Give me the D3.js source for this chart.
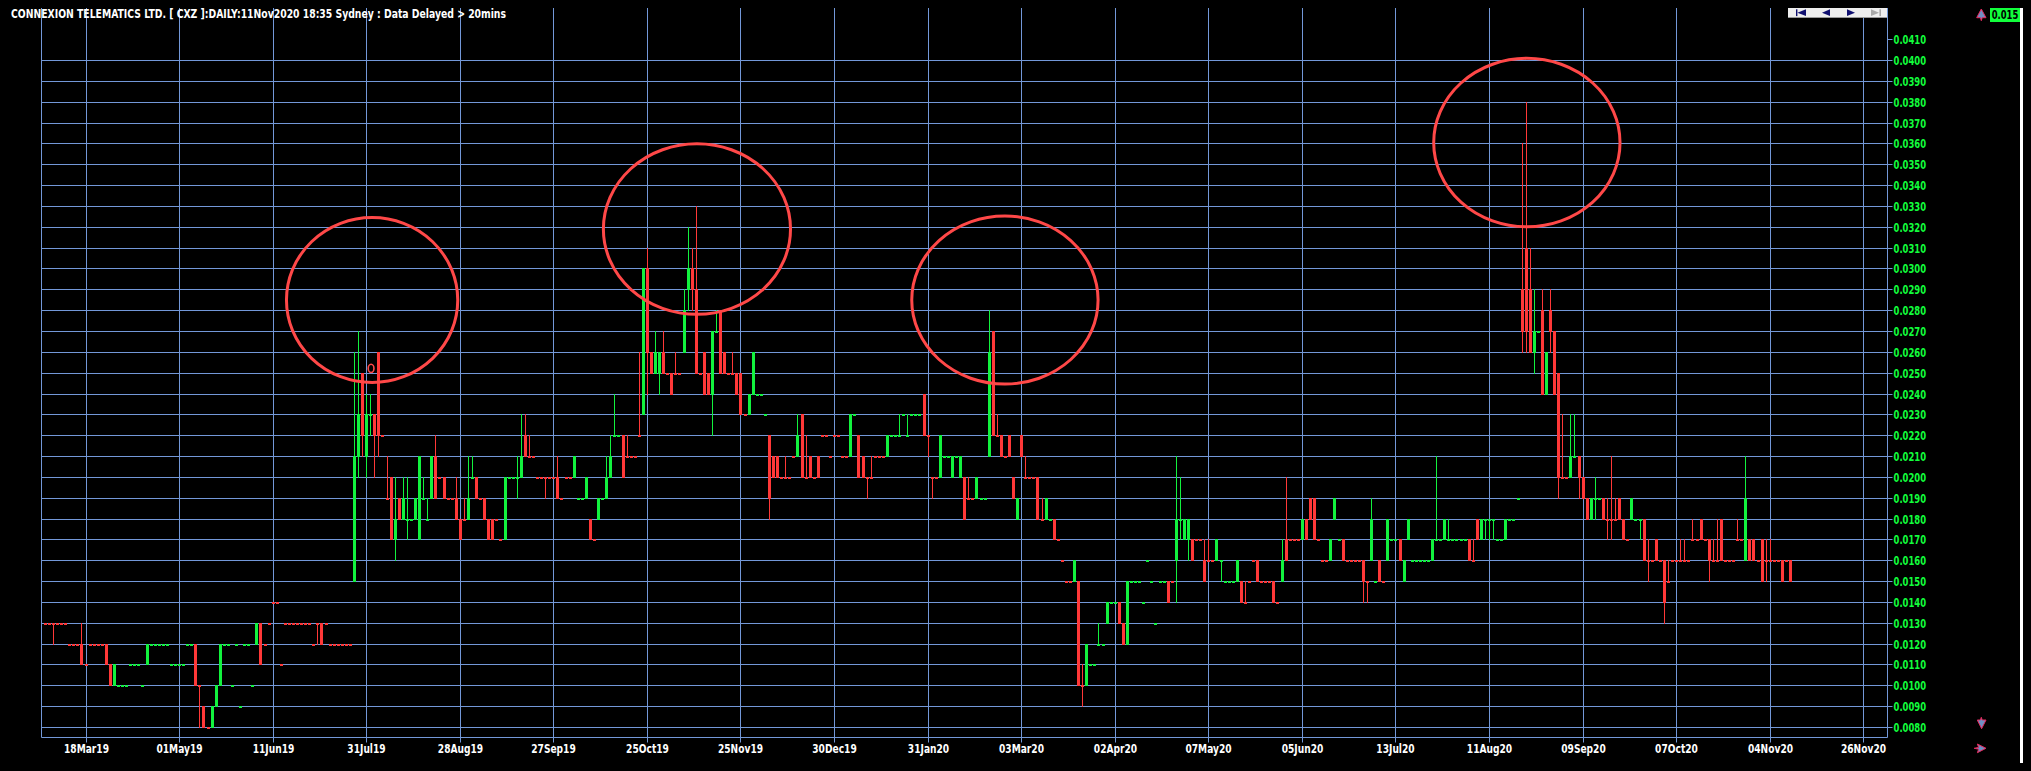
<!DOCTYPE html>
<html>
<head>
<meta charset="utf-8">
<script src="https://cdn.jsdelivr.net/npm/d3@7"></script>
<style>
html,body{margin:0;padding:0;background:#000;overflow:hidden;}
svg{display:block;}
text{font-family:"Liberation Sans Narrow","Arial Narrow","DejaVu Sans Condensed","Liberation Sans",sans-serif;font-weight:bold;}
.ylab{font-size:12.5px;}
.xlab{font-size:12.5px;}
.title{font-size:11.5px;}
.last{font-size:11.5px;}
</style>
</head>
<body>
<svg id="chart" width="2031" height="771"></svg>
<script>
const titleText = "CONNEXION TELEMATICS LTD. [ CXZ ]:DAILY:11Nov2020 18:35 Sydney : Data Delayed > 20mins";
const tickLabels = ["18Mar19","01May19","11Jun19","31Jul19","28Aug19","27Sep19","25Oct19","25Nov19","30Dec19","31Jan20","03Mar20","02Apr20","07May20","05Jun20","13Jul20","11Aug20","09Sep20","07Oct20","04Nov20","26Nov20"];
const priceTicks = [0.008,0.009,0.010,0.011,0.012,0.013,0.014,0.015,0.016,0.017,0.018,0.019,0.020,0.021,0.022,0.023,0.024,0.025,0.026,0.027,0.028,0.029,0.030,0.031,0.032,0.033,0.034,0.035,0.036,0.037,0.038,0.039,0.040,0.041];

const opens = [
.013,.013,.013,.013,.013,.013,.012,.012,.012,.012,
.011,.012,.012,.012,.012,.012,.011,.010,.010,.010,
.010,.011,.011,.011,.010,.011,.012,.012,.012,.012,
.012,.011,.011,.011,.011,.012,.012,.012,.010,.009,
.008,.008,.009,.010,.012,.012,.010,.012,.009,.012,
.012,.010,.012,.013,.012,.013,.014,.014,.011,.013,
.013,.013,.013,.013,.013,.013,.012,.013,.013,.013,
.012,.012,.012,.012,.012,.012,.015,.021,.025,.021,
.023,.023,.026,.022,.019,.020,.017,.019,.018,.018,
.018,.018,.017,.019,.018,.019,.021,.020,.020,.019,
.019,.019,.018,.018,.018,.020,.020,.019,.019,.018,
.018,.018,.017,.017,.020,.020,.020,.020,.022,.021,
.021,.020,.020,.020,.020,.020,.020,.019,.020,.020,
.020,.019,.019,.019,.018,.017,.018,.019,.019,.020,
.022,.022,.022,.021,.021,.021,.022,.023,.030,.026,
.025,.025,.026,.025,.025,.025,.025,.026,.029,.030,
.029,.025,.026,.025,.024,.027,.028,.026,.025,.025,
.025,.025,.023,.023,.024,.024,.024,.023,.022,.021,
.021,.020,.020,.020,.021,.021,.023,.020,.021,.020,
.021,.022,.022,.021,.022,.022,.021,.021,.021,.023,
.022,.021,.020,.020,.021,.021,.021,.021,.022,.022,
.022,.023,.022,.023,.023,.023,.024,.022,.020,.020,
.020,.021,.021,.020,.021,.020,.020,.019,.019,.019,
.019,.019,.021,.027,.022,.022,.021,.022,.020,.018,
.022,.020,.020,.020,.020,.018,.018,.018,.018,.017,
.016,.015,.015,.015,.015,.010,.010,.011,.011,.012,
.012,.013,.014,.014,.014,.013,.012,.015,.015,.015,
.014,.016,.015,.013,.015,.015,.015,.015,.016,.018,
.017,.017,.017,.017,.017,.016,.016,.016,.016,.016,
.015,.015,.015,.015,.015,.014,.015,.016,.016,.015,
.015,.015,.015,.014,.015,.017,.017,.017,.017,.017,
.018,.019,.019,.017,.016,.016,.016,.018,.017,.017,
.016,.016,.016,.016,.016,.015,.016,.015,.016,.015,
.016,.017,.017,.017,.015,.017,.016,.016,.016,.016,
.016,.016,.017,.017,.017,.017,.017,.017,.017,.017,
.017,.016,.018,.017,.018,.018,.018,.017,.017,.017,
.018,.018,.019,.029,.031,.029,.026,.027,.028,.024,
.028,.027,.025,.020,.020,.020,.021,.021,.020,.019,
.018,.019,.019,.019,.018,.018,.018,.019,.018,.017,
.018,.018,.018,.018,.016,.016,.017,.016,.016,.015,
.016,.016,.016,.016,.016,.017,.017,.018,.017,.017,
.016,.016,.018,.016,.016,.016,.017,.017,.016,.017,
.017,.016,.017,.016,.016,.016,.016,.016,.016,.016];

const highs = [
.013,.013,.013,.013,.013,.013,.012,.012,.012,.013,
.011,.012,.012,.012,.012,.012,.011,.011,.010,.010,
.010,.011,.011,.011,.010,.012,.012,.012,.012,.012,
.012,.011,.011,.011,.011,.012,.012,.012,.010,.009,
.008,.009,.010,.012,.012,.012,.010,.012,.009,.012,
.012,.010,.013,.013,.012,.013,.014,.014,.011,.013,
.013,.013,.013,.013,.013,.013,.012,.013,.013,.013,
.012,.012,.012,.012,.012,.012,.026,.027,.025,.024,
.024,.023,.026,.022,.021,.020,.020,.019,.020,.020,
.018,.019,.021,.020,.019,.021,.022,.020,.020,.019,
.019,.020,.018,.019,.021,.021,.020,.019,.019,.018,
.018,.018,.017,.020,.020,.020,.021,.023,.023,.022,
.021,.020,.020,.020,.020,.020,.021,.019,.020,.020,
.021,.019,.019,.020,.018,.017,.019,.019,.021,.022,
.024,.022,.022,.022,.021,.021,.026,.030,.031,.026,
.027,.026,.027,.025,.025,.026,.025,.029,.032,.031,
.033,.025,.026,.025,.027,.028,.028,.026,.025,.026,
.025,.025,.023,.024,.026,.024,.024,.023,.022,.021,
.021,.020,.021,.020,.021,.023,.023,.022,.021,.020,
.021,.022,.022,.021,.022,.022,.021,.021,.023,.023,
.022,.021,.020,.021,.021,.021,.021,.022,.022,.022,
.023,.023,.023,.023,.023,.023,.024,.022,.020,.020,
.022,.021,.021,.021,.021,.021,.020,.020,.019,.020,
.019,.019,.028,.027,.023,.022,.021,.022,.020,.019,
.022,.021,.020,.020,.020,.019,.019,.018,.018,.017,
.016,.015,.015,.016,.015,.011,.012,.011,.011,.013,
.012,.014,.014,.014,.014,.013,.015,.015,.015,.015,
.014,.016,.015,.013,.015,.015,.015,.015,.021,.020,
.018,.018,.017,.017,.017,.017,.017,.016,.017,.016,
.015,.015,.015,.016,.015,.015,.015,.016,.016,.015,
.015,.015,.015,.014,.017,.020,.017,.017,.017,.018,
.018,.019,.019,.017,.016,.016,.017,.019,.017,.017,
.016,.016,.016,.016,.016,.015,.019,.015,.016,.015,
.018,.017,.017,.017,.016,.018,.016,.016,.016,.016,
.016,.017,.021,.017,.018,.018,.017,.017,.017,.017,
.017,.017,.018,.018,.018,.018,.018,.017,.017,.018,
.018,.018,.019,.036,.038,.031,.029,.027,.029,.026,
.029,.027,.025,.023,.020,.023,.023,.021,.020,.019,
.019,.020,.019,.019,.019,.021,.019,.019,.018,.017,
.019,.018,.018,.018,.017,.016,.017,.016,.016,.016,
.016,.016,.017,.017,.016,.018,.017,.018,.017,.017,
.017,.018,.018,.016,.016,.016,.018,.017,.021,.017,
.017,.016,.017,.017,.017,.016,.016,.016,.016,.016];

const lows = [
.013,.013,.012,.013,.013,.013,.012,.012,.012,.011,
.011,.012,.012,.012,.012,.011,.010,.010,.010,.010,
.010,.011,.011,.011,.010,.011,.012,.012,.012,.012,
.012,.011,.011,.011,.011,.012,.012,.010,.008,.008,
.008,.008,.009,.010,.012,.012,.010,.012,.009,.012,
.012,.010,.012,.011,.012,.013,.014,.014,.011,.013,
.013,.013,.013,.013,.013,.013,.012,.012,.012,.013,
.012,.012,.012,.012,.012,.012,.015,.020,.021,.020,
.022,.020,.021,.022,.019,.017,.016,.018,.018,.017,
.018,.018,.017,.019,.018,.019,.019,.020,.019,.019,
.019,.018,.017,.018,.018,.020,.019,.019,.018,.017,
.017,.018,.017,.017,.020,.020,.019,.020,.021,.021,
.021,.020,.020,.019,.020,.020,.019,.019,.020,.020,
.020,.019,.019,.019,.017,.017,.018,.019,.019,.020,
.022,.022,.020,.021,.021,.021,.022,.023,.024,.025,
.025,.024,.025,.025,.024,.025,.025,.026,.028,.028,
.025,.025,.024,.024,.022,.027,.025,.025,.025,.025,
.024,.023,.023,.023,.024,.024,.024,.023,.018,.020,
.020,.020,.020,.020,.021,.021,.020,.020,.020,.020,
.020,.022,.022,.021,.022,.022,.021,.021,.021,.023,
.020,.020,.019,.020,.021,.021,.021,.021,.022,.022,
.022,.023,.022,.023,.023,.023,.022,.021,.019,.020,
.020,.021,.021,.020,.021,.020,.018,.019,.019,.019,
.019,.019,.021,.022,.022,.021,.021,.021,.019,.018,
.021,.020,.020,.020,.018,.018,.018,.018,.017,.017,
.016,.015,.015,.015,.010,.009,.010,.011,.011,.012,
.012,.013,.014,.014,.013,.012,.012,.015,.015,.015,
.014,.016,.015,.013,.015,.015,.014,.015,.014,.017,
.017,.016,.016,.017,.017,.015,.016,.016,.016,.015,
.015,.015,.015,.015,.014,.014,.015,.016,.015,.015,
.015,.015,.014,.014,.015,.016,.017,.017,.017,.017,
.017,.018,.017,.017,.016,.016,.016,.018,.017,.016,
.016,.016,.016,.016,.014,.014,.016,.015,.015,.015,
.016,.017,.017,.016,.015,.017,.016,.016,.016,.016,
.016,.016,.017,.017,.017,.017,.017,.017,.017,.017,
.016,.016,.017,.017,.017,.017,.017,.017,.017,.017,
.018,.018,.019,.026,.026,.026,.025,.027,.024,.024,
.026,.024,.019,.020,.020,.020,.021,.019,.019,.018,
.018,.018,.019,.018,.017,.017,.018,.018,.017,.017,
.018,.018,.017,.016,.015,.016,.016,.016,.013,.015,
.016,.016,.016,.016,.016,.017,.017,.017,.017,.015,
.016,.016,.016,.016,.016,.016,.017,.017,.016,.016,
.016,.016,.015,.015,.016,.016,.016,.015,.016,.015];

const closes = [
.013,.013,.013,.013,.013,.013,.012,.012,.012,.011,
.011,.012,.012,.012,.012,.011,.010,.011,.010,.010,
.010,.011,.011,.011,.010,.012,.012,.012,.012,.012,
.012,.011,.011,.011,.011,.012,.012,.010,.010,.008,
.008,.009,.010,.012,.012,.012,.010,.012,.009,.012,
.012,.010,.013,.011,.012,.013,.014,.014,.011,.013,
.013,.013,.013,.013,.013,.013,.012,.013,.012,.013,
.012,.012,.012,.012,.012,.012,.021,.023,.022,.023,
.023,.022,.022,.022,.019,.017,.018,.018,.019,.018,
.018,.019,.021,.019,.018,.021,.019,.020,.019,.019,
.019,.018,.017,.018,.019,.020,.019,.019,.018,.017,
.017,.018,.017,.020,.020,.020,.020,.021,.021,.021,
.021,.020,.020,.020,.020,.020,.019,.019,.020,.020,
.021,.019,.019,.020,.017,.017,.019,.019,.020,.021,
.022,.022,.020,.021,.021,.021,.022,.030,.026,.025,
.026,.026,.025,.025,.024,.025,.025,.028,.030,.029,
.025,.025,.024,.024,.027,.027,.025,.025,.025,.025,
.024,.023,.023,.024,.026,.024,.024,.023,.019,.020,
.020,.020,.020,.020,.021,.022,.020,.020,.020,.020,
.020,.022,.022,.021,.022,.022,.021,.021,.023,.023,
.020,.020,.020,.020,.021,.021,.021,.022,.022,.022,
.022,.023,.022,.023,.023,.023,.022,.022,.020,.020,
.022,.021,.021,.021,.021,.021,.018,.019,.019,.020,
.019,.019,.026,.022,.022,.021,.021,.021,.019,.019,
.021,.020,.020,.020,.018,.018,.019,.018,.017,.017,
.016,.015,.015,.016,.010,.010,.012,.011,.011,.012,
.012,.014,.014,.014,.013,.012,.015,.015,.015,.015,
.014,.016,.015,.013,.015,.015,.014,.015,.018,.018,
.018,.018,.016,.017,.017,.015,.016,.016,.017,.016,
.015,.015,.015,.016,.014,.014,.015,.016,.015,.015,
.015,.015,.014,.014,.016,.016,.017,.017,.017,.018,
.017,.018,.017,.017,.016,.016,.017,.019,.017,.016,
.016,.016,.016,.016,.015,.015,.018,.015,.015,.015,
.018,.017,.017,.016,.016,.018,.016,.016,.016,.016,
.016,.017,.017,.017,.018,.017,.017,.017,.017,.017,
.016,.016,.017,.018,.018,.018,.018,.017,.017,.018,
.018,.018,.019,.027,.027,.026,.027,.027,.024,.026,
.027,.024,.020,.020,.020,.021,.021,.020,.019,.018,
.019,.019,.019,.018,.018,.018,.018,.018,.017,.017,
.019,.018,.018,.016,.016,.016,.016,.016,.014,.015,
.016,.016,.016,.016,.016,.017,.017,.017,.017,.016,
.016,.016,.016,.016,.016,.016,.017,.017,.019,.016,
.016,.016,.015,.016,.016,.016,.016,.015,.016,.015];

// hand-drawn highlight ellipses, in data units: bar range and price range
const highlightBars   = [[59.4,101.5],[137.3,183.3],[213.1,258.9],[341.4,387.2],[79.5,80.9]];
const highlightPrices = [[0.02453,0.03244],[0.0278,0.03598],[0.02445,0.03252],[0.032,0.04008],[0.02501,0.0254]];

// ---------------------------------------------------------------
(function () {
const W = 2031, H = 771;
const pL = 41, pR = 1887, pT = 8, pB = 737;
const barsPerTick = 23, firstTickBar = 10;
const tickBars = tickLabels.map((d, i) => firstTickBar + i * barsPerTick);

const x = d3.scaleLinear().domain([firstTickBar, tickBars[tickBars.length - 1]]).range([85.5, 1863.3]);
const y = d3.scaleLinear().domain([0.008, 0.041]).range([727, 39.16]);
const R = v => Math.round(y(v));
const C = i => Math.round(x(i));

const gridColor = "#7398d8", upColor = "#12f23e", downColor = "#ff3838", labelGreen = "#12ff3c";

const svg = d3.select("#chart");
svg.append("rect").attr("width", W).attr("height", H).attr("fill", "#000");

// horizontal grid
svg.append("g").selectAll("line").data(priceTicks.filter(v => v < 0.0405)).join("line")
  .attr("x1", pL).attr("x2", pR)
  .attr("y1", d => R(d) + 0.5).attr("y2", d => R(d) + 0.5)
  .attr("stroke", gridColor).attr("stroke-width", 1);

// vertical grid
svg.append("g").selectAll("line").data(tickBars).join("line")
  .attr("x1", d => C(d) + 0.5).attr("x2", d => C(d) + 0.5)
  .attr("y1", pT).attr("y2", pB)
  .attr("stroke", gridColor).attr("stroke-width", 1);

// frame
svg.append("path")
  .attr("d", `M${pL + 0.5},${pT}V${pB + 0.5}H${pR + 0.5}V${pT}`)
  .attr("fill", "none").attr("stroke", gridColor).attr("stroke-width", 1);

// y axis
const yAxis = d3.axisRight(y).tickValues(priceTicks).tickFormat(d3.format(".4f")).tickSize(5).tickPadding(1);
const gy = svg.append("g").attr("transform", `translate(${pR + 0.5},0)`).call(yAxis);
gy.select(".domain").remove();
gy.selectAll(".tick").attr("transform", d => `translate(0,${R(d) + 0.5})`);
gy.selectAll(".tick line").attr("stroke", gridColor);
gy.selectAll(".tick text").attr("class", "ylab").attr("fill", labelGreen).attr("dy", "0.36em");

// x axis
const xAxis = d3.axisBottom(x).tickValues(tickBars).tickFormat((d, i) => tickLabels[i]).tickSize(5).tickPadding(2);
const gx = svg.append("g").attr("transform", `translate(0,${pB + 0.5})`).call(xAxis);
gx.select(".domain").remove();
gx.selectAll(".tick").attr("transform", d => `translate(${C(d) + 0.5},0)`);
gx.selectAll(".tick line").attr("stroke", gridColor);
gx.selectAll(".tick text").attr("class", "xlab").attr("fill", "#ffffff");

// candles
const bars = opens.map((o, i) => ({ i, o, h: Math.max(highs[i], o, closes[i]), l: Math.min(lows[i], o, closes[i]), c: closes[i] }));
let prev = downColor;
bars.forEach(b => {
  b.col = b.c > b.o ? upColor : (b.c < b.o ? downColor : prev);
  prev = b.col;
});
const gc = svg.append("g");
gc.selectAll("rect.wick").data(bars.filter(b => b.h > b.l)).join("rect").attr("class", "wick")
  .attr("x", b => C(b.i)).attr("width", 1)
  .attr("y", b => R(b.h)).attr("height", b => R(b.l) - R(b.h) + 1)
  .attr("fill", b => b.col);
gc.selectAll("rect.body").data(bars).join("rect").attr("class", "body")
  .attr("x", b => C(b.i) - 1).attr("width", 3)
  .attr("y", b => R(Math.max(b.o, b.c)))
  .attr("height", b => Math.max(R(Math.min(b.o, b.c)) - R(Math.max(b.o, b.c)) + 1, 2))
  .attr("fill", b => b.col);

// highlight ellipses
const hl = highlightBars.map((bb, i) => ({ b: bb, p: highlightPrices[i] }));
svg.append("g").selectAll("ellipse").data(hl).join("ellipse")
  .attr("cx", d => (x(d.b[0]) + x(d.b[1])) / 2)
  .attr("cy", d => (y(d.p[0]) + y(d.p[1])) / 2)
  .attr("rx", d => (x(d.b[1]) - x(d.b[0])) / 2)
  .attr("ry", d => (y(d.p[0]) - y(d.p[1])) / 2)
  .attr("fill", "none").attr("stroke", "#ff4848")
  .attr("stroke-width", d => (x(d.b[1]) - x(d.b[0])) > 20 ? 3 : 1.6);

// title
const tt = svg.append("text").attr("class", "title").attr("x", 11).attr("y", 18)
  .attr("fill", "#ffffff").text(titleText);

// nav buttons
const nav = svg.append("g");
nav.append("rect").attr("x", 1788).attr("y", 8).attr("width", 99).attr("height", 9.5).attr("fill", "#eeeeee");
nav.append("line").attr("x1", 1788).attr("x2", 1887).attr("y1", 17.5).attr("y2", 17.5).attr("stroke", "#9a9a9a");
const navy = "#101070";
nav.append("rect").attr("x", 1796).attr("y", 9.3).attr("width", 1.4).attr("height", 6.8).attr("fill", navy);
nav.append("path").attr("d", "M1797.4,12.7L1806,9.3V16.1Z").attr("fill", navy);
nav.append("path").attr("d", "M1822,12.7L1830,9.3V16.1Z").attr("fill", navy);
nav.append("path").attr("d", "M1855,12.7L1847,9.3V16.1Z").attr("fill", navy);
nav.append("path").attr("d", "M1879,12.7L1871,9.3V16.1Z").attr("fill", "#a8a8a8");
nav.append("rect").attr("x", 1879.4).attr("y", 9.3).attr("width", 1.6).attr("height", 6.8).attr("fill", "#a8a8a8");

// right-side markers
const mk = svg.append("g").attr("fill", "#6f90c4").attr("stroke", "#e8285c").attr("stroke-width", 1);
mk.append("path").attr("d", "M1981.3,9L1986,17.7L1982.2,17.7L1981.3,20.7L1980.4,17.7L1976.7,17.7Z");
mk.append("path").attr("d", "M1977.3,720L1980.4,720L1981.3,717.3L1982.2,720L1986,720L1981.6,728.7Z");
mk.append("path").attr("d", "M1986,748.3L1977.4,744L1978.6,747.4L1974.2,748.3L1978.6,749.2L1977.4,752.7Z");

// last price box
svg.append("rect").attr("x", 1990).attr("y", 8).attr("width", 30).attr("height", 14).attr("fill", "#12ff3c");
const lt = svg.append("text").attr("class", "last").attr("x", 2005).attr("y", 19.3)
  .attr("text-anchor", "middle").attr("fill", "#000").text(d3.format(".3f")(closes[closes.length - 1]));

// white right edge line
svg.append("rect").attr("x", 2020).attr("y", 8).attr("width", 3).attr("height", 755).attr("fill", "#ffffff");

// fit text widths to the narrow font of the original
function fitAll(sel, refWidth) {
  const nodes = sel.nodes();
  if (!nodes.length) return;
  const L = nodes[0].getComputedTextLength();
  if (!L) return;
  const f = refWidth / L;
  sel.each(function () {
    const w = this.getComputedTextLength();
    d3.select(this).attr("textLength", w * f).attr("lengthAdjust", "spacingAndGlyphs");
  });
}
fitAll(gy.selectAll(".tick text"), 32.6);
fitAll(gx.selectAll(".tick text"), 45);
fitAll(tt, 495);
fitAll(lt, 26.7);
})();
</script>
</body>
</html>
